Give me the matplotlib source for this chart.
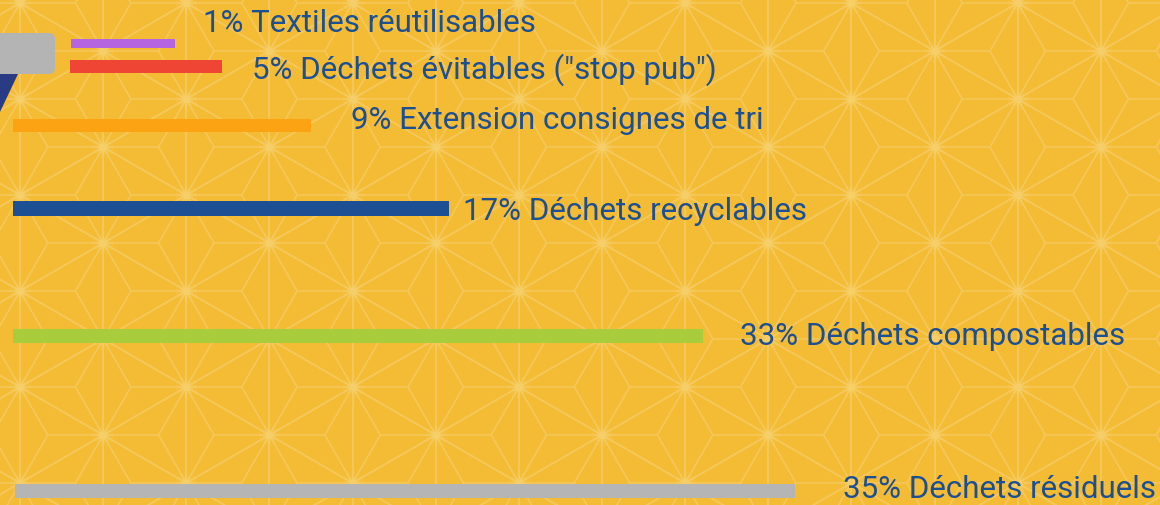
import numpy as np
import matplotlib
matplotlib.use("Agg")
import matplotlib.pyplot as plt
from matplotlib.collections import LineCollection
from matplotlib.patches import FancyBboxPatch, Polygon

# ---- data ----
categories = ["Textiles réutilisables", "Déchets évitables (\"stop pub\")",
              "Extension consignes de tri", "Déchets recyclables",
              "Déchets compostables", "Déchets résiduels"]
percentages = [1, 5, 9, 17, 33, 35]
bar_lengths = [104, 152, 298, 436, 690, 780]   # drawn length, axis units

# ---- layout / style ----
row_y = [43, 66.5, 125.5, 208.5, 336, 491]
bar_left = [71, 70, 13, 13, 13, 15]
bar_thick = [9, 13, 13, 15, 14, 14]
bar_colors = ["#b565e0", "#ef4535", "#fca313", "#1c4f93", "#a8cc3c", "#b5b5b5"]
label_x = [203, 252, 351, 463, 740, 843]
label_base = [32, 79, 129, 220, 345, 498]
text_color = "#1d4f93"
bg = "#f4bb34"
line_col = "#f6c85a"

W, H = 1160, 505
fig = plt.figure(figsize=(W / 100, H / 100), dpi=100)
fig.patch.set_facecolor(bg)
ax = fig.add_axes([0, 0, 1, 1])
ax.set_facecolor(bg)
ax.set_xlim(0, W)
ax.set_ylim(H, 0)
ax.axis("off")

# ---- asanoha background pattern ----
s = 96.0
h = s * np.sqrt(3) / 2
x0, y0 = 20.0, 195.0
segs = []
pts = []
for k in range(-2, 16):
    xk = x0 + k * h
    for j in range(-4, 6):
        yk = y0 + j * s + (k % 2) * s / 2
        pts.append((xk, yk))
        A = np.array([xk, yk]); B = np.array([xk, yk + s])
        for side in (1, -1):
            C = np.array([xk + side * h, yk + s / 2])
            G = (A + B + C) / 3
            segs += [(A, B), (A, C), (B, C), (G, A), (G, B), (G, C)]
lc = LineCollection(segs, colors=line_col, linewidths=1.2, zorder=1)
ax.add_collection(lc)
pts = np.array(pts)
for sz, al in [(250, 0.08), (100, 0.12), (35, 0.2)]:
    ax.scatter(pts[:, 0], pts[:, 1], s=sz, color="#fbe08a", alpha=al,
               linewidths=0, zorder=1.5)

# ---- decorative shapes at top-left ----
ax.add_patch(Polygon([(0, 74), (18, 74), (0, 112)], closed=True,
                     facecolor="#2a3b85", edgecolor="none", zorder=2))
ax.add_patch(FancyBboxPatch((-20, 33), 75, 41,
                            boxstyle="round,pad=0,rounding_size=6",
                            facecolor="#b4b4b4", edgecolor="none", zorder=3))

# ---- bars ----
ax.barh(row_y, bar_lengths, height=bar_thick, left=bar_left,
        color=bar_colors, edgecolor="none", zorder=4)

# ---- labels ----
for p, c, x, y in zip(percentages, categories, label_x, label_base):
    ax.text(x, y, f"{p}% {c}", fontsize=22.5, family="Roboto",
            color=text_color, ha="left", va="baseline", zorder=5)

fig.savefig("out.png", dpi=100, facecolor=bg)
